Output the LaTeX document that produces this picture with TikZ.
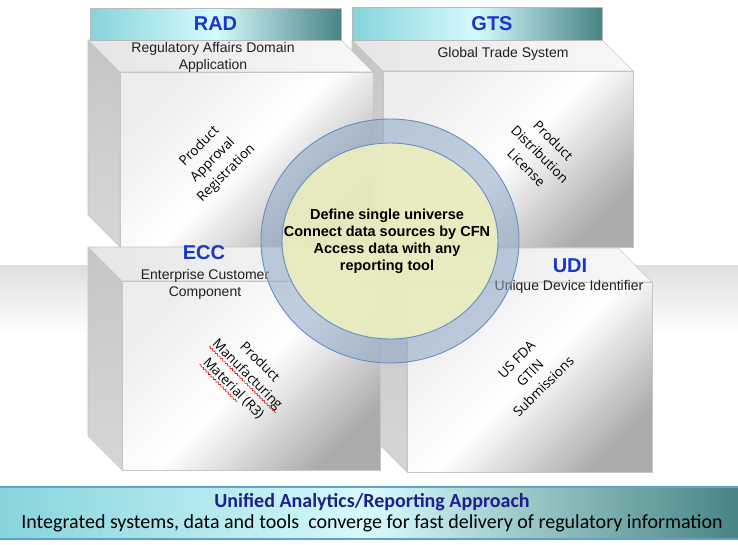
\documentclass[tikz,border=0pt]{standalone}
\usepackage{fontspec}
\setmainfont{Liberation Sans}
\newfontfamily\slantfont{Open Sans}
\newfontfamily\bannerfont{Carlito}
\usetikzlibrary{decorations.pathmorphing}

\definecolor{headL}{RGB}{135,212,220}
\definecolor{headM}{RGB}{214,250,252}
\definecolor{headR}{RGB}{72,132,132}
\definecolor{tagblue}{RGB}{25,55,200}
\definecolor{navy}{RGB}{30,30,140}
\definecolor{ringblue}{RGB}{140,166,198}
\definecolor{ringedge}{RGB}{105,140,195}
\definecolor{hubyellow}{RGB}{238,239,190}
\definecolor{bannerline}{RGB}{95,160,205}

\tikzset{
  boxedge/.style={draw=gray!45, line width=0.6pt},
  frontface/.style={boxedge, top color=gray!14, bottom color=gray!65, middle color=white, shading angle=45},
  sideface/.style={boxedge, top color=gray!45, bottom color=gray!32},
  topface/.style={boxedge, left color=gray!20, right color=gray!5},
  header/.style={draw=gray!55, line width=0.5pt, left color=headL, right color=headR, middle color=headM},
  tag/.style={font=\fontsize{20}{22}\selectfont\bfseries, text=tagblue},
  sub/.style={font=\fontsize{14}{17}\selectfont, align=center, text=black!88},
  slant/.style={font=\slantfont\fontsize{13.5}{19}\selectfont, align=center, inner sep=1pt},
  squiggle/.style={red!85!black, line width=0.6pt, decorate, decoration={snake, amplitude=0.8pt, segment length=3.5pt}},
  ringline/.style={draw=ringedge, line width=0.9pt}
}

% front face x1,y1,x2,y2 and depth
\newcommand{\sysblock}[5]{%
  \shade[sideface] (#1-#5,#2-#5) -- (#1,#2) -- (#1,#4) -- (#1-#5,#4-#5) -- cycle;
  \shade[topface] (#1-#5,#2-#5) -- (#3-#5,#2-#5) -- (#3,#2) -- (#1,#2) -- cycle;
  \shade[frontface] (#1,#2) rectangle (#3,#4);}

\begin{document}
\begin{tikzpicture}[x=1pt,y=-1pt]
\useasboundingbox (0,0) rectangle (738,544);
% grey band behind the lower blocks
\shade[top color=gray!25, bottom color=white] (0,265) rectangle (738,335);

\sysblock{383}{71}{633}{247}{31}
\sysblock{120}{72}{373}{247}{32}
\sysblock{407}{282}{652}{472}{34}
\sysblock{122}{281}{380}{470}{34}

\shade[header] (90,8) rectangle (341,40) node (radtag) [tag, pos=.5] {RAD};
\shade[header] (352,7) rectangle (602,40) node (gtstag) [tag, pos=.5, xshift=15pt] {GTS};

\node (radsub) [sub] at (213,57) {Regulatory Affairs Domain\\Application};
\node (gtssub) [sub] at (503,54) {Global Trade System};
\node (ecctag) [tag] at (204,253) {ECC};
\node (eccsub) [sub] at (205,284) {Enterprise Customer\\Component};
\node (uditag) [tag] at (570,266) {UDI};
\node (udisub) [sub] at (569,287) {Unique Device Identifier};

\node (radlist) [slant, rotate=45] at (213,160) {Product\\Approval\\Registration};
\node (gtslist) [slant, rotate=-45] at (540,154) {Product\\Distribution\\License};
\node (udilist) [slant, rotate=45] at (530,373) {US FDA\\GTIN\\Submissions};
\begin{scope}[shift={(247,375)}, rotate=-45, transform shape]
  \node (eccone) [slant] at (0,-19) {Product};
  \node (ecctwo) [slant] at (0,0) {Manufacturing};
  \node (eccthree) [slant] at (0,19) {Material (R3)};
  \draw[squiggle] ([yshift=-3pt]ecctwo.base west) -- ([yshift=-3pt]ecctwo.base east);
  \draw[squiggle] ([yshift=-3pt]eccthree.base west) -- ++(53,0);
\end{scope}

% hub in the middle
\coordinate (hub) at (390,241);
\draw[ringline, fill=ringblue, fill opacity=.55] (hub) ellipse [x radius=129, y radius=122];
\draw[ringline, fill=hubyellow, fill opacity=.9] (hub) ellipse [x radius=108, y radius=98];
\node (hubtext) [font=\fontsize{14.5}{17}\selectfont\bfseries, align=center] at (387,241)
  {Define single universe\\Connect data sources by CFN\\Access data with any\\reporting tool};

% banner
\shade[left color=headL, right color=headR, middle color=headM] (0,487) rectangle (738,539);
\draw[bannerline, line width=1.5pt] (0,487) -- (738,487) (0,539) -- (738,539);
\node (bantext) [font=\bannerfont\fontsize{20}{21}\selectfont, align=center] at (372,513)
  {{\bfseries\color{navy}Unified Analytics/Reporting Approach}\\
   Integrated systems, data and tools\ \ converge for fast delivery of regulatory information};
\end{tikzpicture}
\end{document}
